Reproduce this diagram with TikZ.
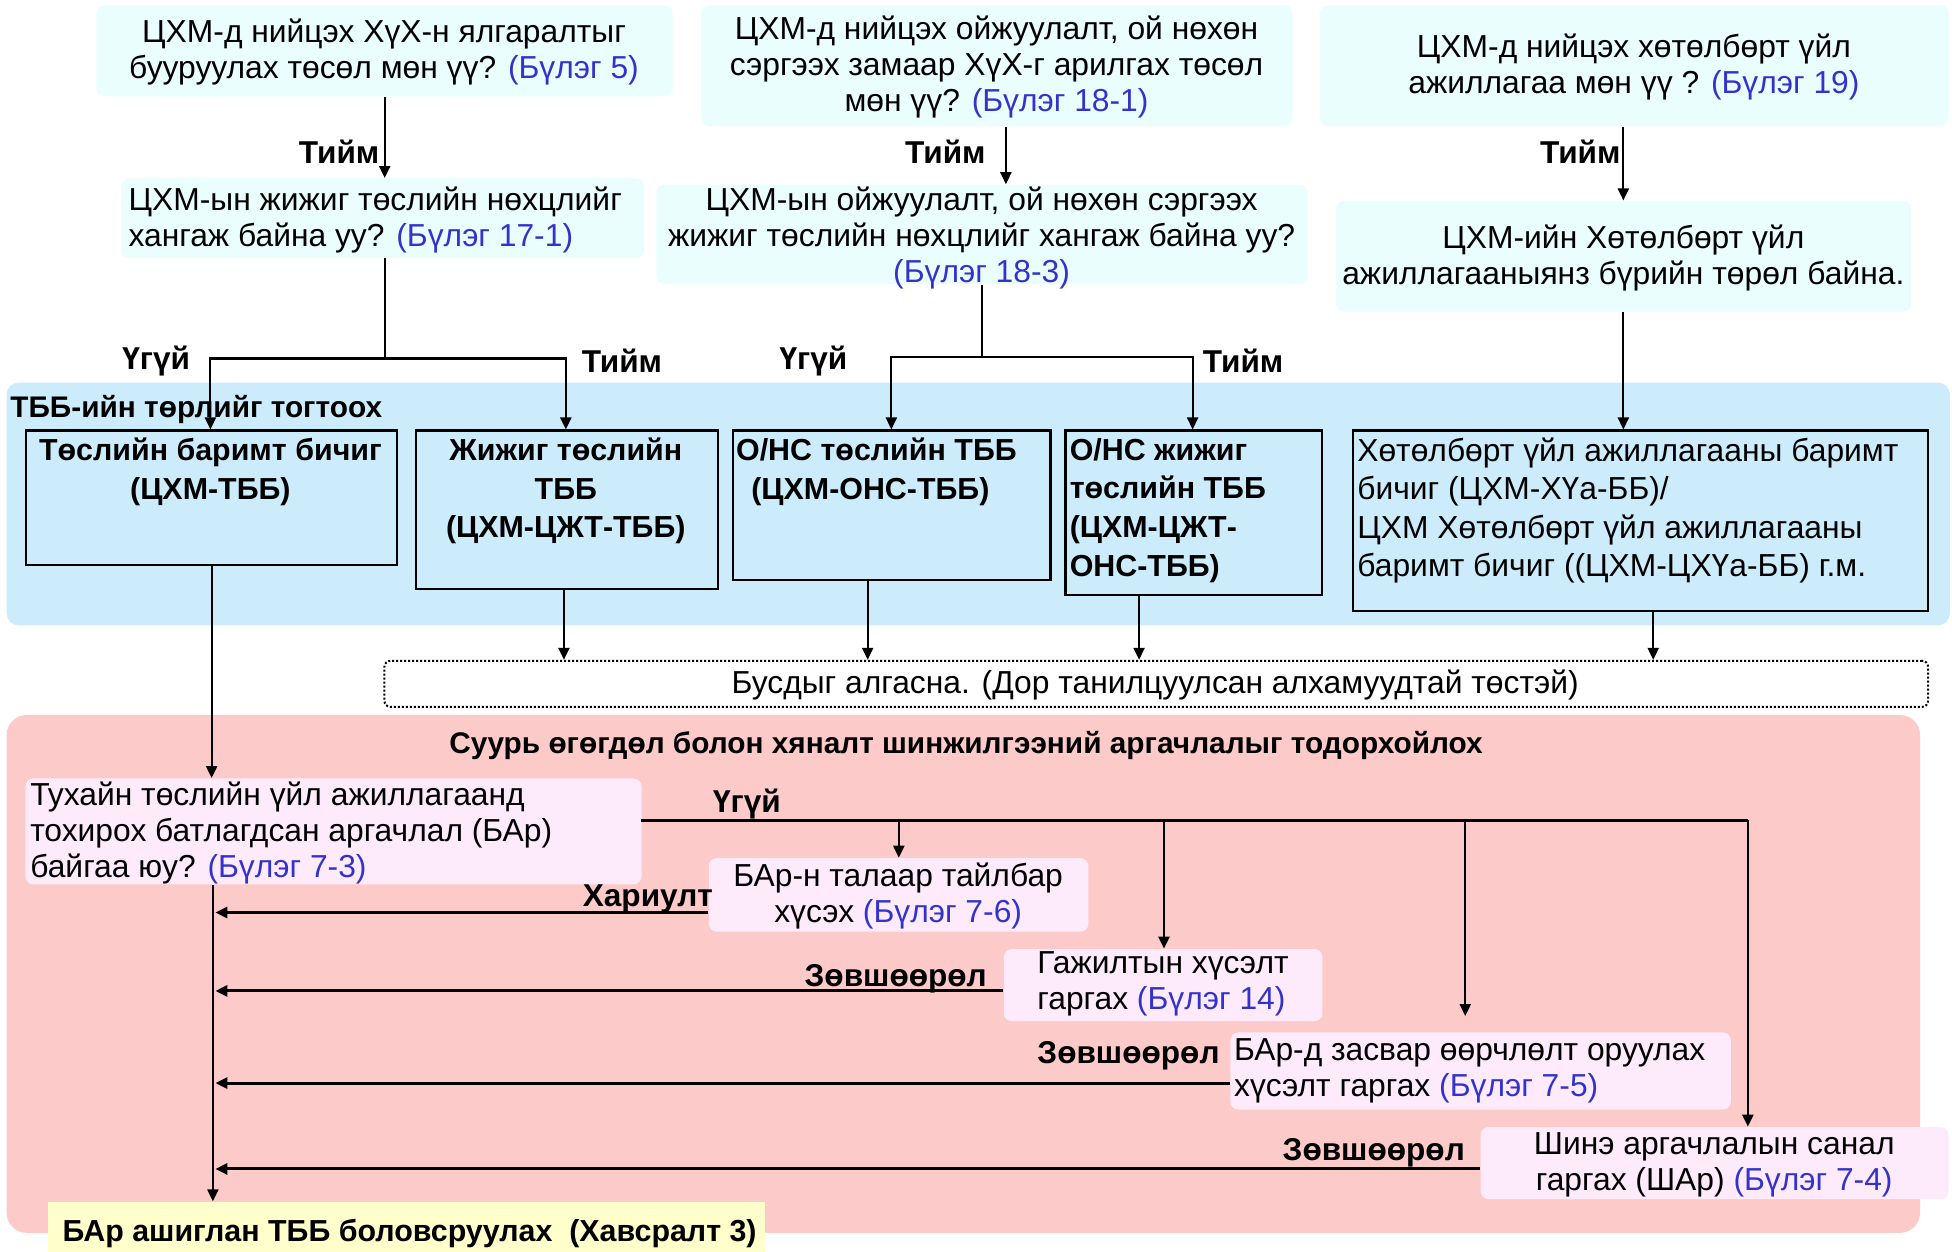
\documentclass[tikz,border=0pt]{standalone}
\usepackage{fontspec}
\setmainfont{Liberation Sans}
\usetikzlibrary{arrows.meta}
\definecolor{topc}{RGB}{234,254,254}
\definecolor{bluereg}{RGB}{204,236,252}
\definecolor{pinkreg}{RGB}{253,202,202}
\definecolor{pinkbox}{RGB}{253,235,252}
\definecolor{yelbox}{RGB}{255,255,204}
\definecolor{refblue}{RGB}{51,51,204}
\newcommand{\bl}[1]{\textcolor{refblue}{#1}}
\newcommand{\fs}{\fontsize{15.9}{18}\selectfont}
\newcommand{\fsk}{\fontsize{15.9}{19.3}\selectfont}
\newcommand{\fsb}{\fontsize{15.2}{19.3}\selectfont}
\newcommand{\fst}{\fontsize{14.9}{18}\selectfont}
\newcommand{\fsl}{\fontsize{15.8}{18}\selectfont}
\newcommand{\bx}[6]{\node[#6, anchor=north west, inner sep=0pt, minimum width={(#4-#2)*0.6225pt}, minimum height={(#5-#3)*0.6225pt}] (#1) at (#2,#3) {};}
\tikzset{
  topbox/.style={fill=topc, rounded corners=4pt},
  docbox/.style={fill=bluereg, draw=black, line width=1.1pt},
  pbox/.style={fill=pinkbox, rounded corners=4pt},
  txt/.style={inner sep=0pt, font=\fs, align=center},
  ltxt/.style={inner sep=0pt, font=\fs, align=left},
  btxt/.style={inner sep=0pt, font=\fsb\bfseries, align=center},
  lbtxt/.style={inner sep=0pt, font=\fsb\bfseries, align=left},
  lab/.style={inner sep=0pt, font=\fsl\bfseries},
  ttl/.style={inner sep=0pt, font=\fst\bfseries},
  conn/.style={line width=1.1pt},
  arr/.style={line width=1.1pt, -{Triangle[width=5.5pt,length=6pt]}},
  harr/.style={line width=1.5pt, -{Triangle[width=5.5pt,length=6pt]}},
}
\begin{document}
\begin{tikzpicture}[x=0.6225pt, y=-0.6225pt]
\useasboundingbox (0,0) rectangle (1568,1005);
% regions
\bx{breg}{5}{307}{1566}{502}{fill=bluereg, rounded corners=6pt}
\bx{preg}{5}{574}{1542}{990}{fill=pinkreg, rounded corners=10pt}
% top boxes
\bx{A}{77}{4}{540}{77}{topbox}
\bx{B}{563}{4}{1038}{101}{topbox}
\bx{C}{1060}{4}{1565}{101}{topbox}
\bx{D}{97}{143}{517}{207}{topbox}
\bx{E}{527}{148}{1050}{228}{topbox}
\bx{F}{1073}{161}{1535}{250}{topbox}
\node[txt] (At) at (308.5,42) {ЦХМ-д нийцэх ХүХ-н ялгаралтыг\\бууруулах төсөл мөн үү? \bl{(Бүлэг 5)}};
\node[txt] (Bt) at (800.5,54) {ЦХМ-д нийцэх ойжуулалт, ой нөхөн\\сэргээх замаар ХүХ-г арилгах төсөл\\мөн үү? \bl{(Бүлэг 18-1)}};
\node[txt] (Ct) at (1312.5,54) {ЦХМ-д нийцэх хөтөлбөрт үйл\\ажиллагаа мөн үү ? \bl{(Бүлэг 19)}};
\node[ltxt, anchor=west] (Dt) at (103,177) {ЦХМ-ын жижиг төслийн нөхцлийг\\хангаж байна уу? \bl{(Бүлэг 17-1)}};
\node[txt] (Et) at (788.5,191) {ЦХМ-ын ойжуулалт, ой нөхөн сэргээх\\жижиг төслийн нөхцлийг хангаж байна уу?\\\bl{(Бүлэг 18-3)}};
\node[txt] (Ft) at (1304,207.5) {ЦХМ-ийн Хөтөлбөрт үйл\\ажиллагааныянз бүрийн төрөл байна.};
% blue region content
\node[ttl, anchor=west] (bregt) at (8,329) {ТББ-ийн төрлийг тогтоох};
\bx{G}{20}{345}{318}{453}{docbox}
\bx{H}{333}{345}{576}{472}{docbox}
\bx{I}{588}{345}{843}{465}{docbox}
\bx{J}{855}{345}{1061}{477}{docbox}
\bx{K}{1086}{345}{1548}{490}{docbox}
\node[btxt] (Gt) at (169,379) {Төслийн баримт бичиг\\(ЦХМ-ТББ)};
\node[btxt] (Ht) at (454.5,394.5) {Жижиг төслийн\\ТББ\\(ЦХМ-ЦЖТ-ТББ)};
\node[lbtxt, anchor=west] (It) at (591,379) {О/НС төслийн ТББ\\\hspace*{0.5em}(ЦХМ-ОНС-ТББ)};
\node[lbtxt, anchor=west] (Jt) at (859,410) {О/НС жижиг\\төслийн ТББ\\(ЦХМ-ЦЖТ-\\ОНС-ТББ)};
\node[ltxt, anchor=west, font=\fsk] (Kt) at (1090,410) {Хөтөлбөрт үйл ажиллагааны баримт\\бичиг (ЦХМ-ХҮа-ББ)/\\ЦХМ Хөтөлбөрт үйл ажиллагааны\\баримт бичиг ((ЦХМ-ЦХҮа-ББ) г.м.};
% dotted box
\bx{L}{308}{530}{1548}{567}{draw=black, line width=1pt, dash pattern=on 1pt off 1pt, rounded corners=3pt}
\node[txt] (Lt) at (928,550) {Бусдыг алгасна. (Дор танилцуулсан алхамуудтай төстэй)};
% pink region content
\node[ttl] (pregt) at (776,599) {Суурь өгөгдөл болон хяналт шинжилгээний аргачлалыг тодорхойлох};
\bx{M}{20}{625}{515}{710}{pbox}
\bx{N}{569}{689}{874}{748}{pbox}
\bx{O}{806}{762}{1062}{820}{pbox}
\bx{P}{988}{829}{1390}{891}{pbox}
\bx{Q}{1189}{905}{1565}{963}{pbox}
\bx{R}{38}{965}{614}{1005}{fill=yelbox}
\node[ltxt, anchor=west] (Mt) at (24,669.5) {Тухайн төслийн үйл ажиллагаанд\\тохирох батлагдсан аргачлал (БАр)\\байгаа юу? \bl{(Бүлэг 7-3)}};
\node[txt] (Nt) at (721.5,719.5) {БАр-н талаар тайлбар\\хүсэх \bl{(Бүлэг 7-6)}};
\node[ltxt, anchor=west] (Ot) at (833,790.5) {Гажилтын хүсэлт\\гаргах \bl{(Бүлэг 14)}};
\node[ltxt, anchor=west] (Pt) at (991,860) {БАр-д засвар өөрчлөлт оруулах\\хүсэлт гаргах \bl{(Бүлэг 7-5)}};
\node[txt] (Qt) at (1377,936) {Шинэ аргачлалын санал\\гаргах (ШАр) \bl{(Бүлэг 7-4)}};
\node[inner sep=0pt, font=\fsb\bfseries, anchor=west] (Rt) at (50,991) {БАр ашиглан ТББ боловсруулах\ \ (Хавсралт 3)};
% coordinates
\coordinate (d1) at (309,288);
\coordinate (e1) at (789,287);
\coordinate (m1) at (1404,659);
% top connectors
\draw[arr] (309,0 |- A.south) -- (309,0 |- D.north);
\draw[arr] (808,0 |- B.south) -- (808,0 |- E.north);
\draw[arr] (1304,0 |- C.south) -- (1304,0 |- F.north);
\node[lab, anchor=east] (y1) at (305,122) {Тийм};
\node[lab, anchor=east] (y2) at (792,122) {Тийм};
\node[lab, anchor=east] (y3) at (1302,122) {Тийм};
% branches
\draw[conn] (309,0 |- D.south) -- (d1);
\draw[arr] (d1) -| (169,0 |- G.north);
\draw[arr] (d1) -| (454.5,0 |- H.north);
\draw[conn] (789,0 |- E.south) -- (e1);
\draw[arr] (e1) -| (716,0 |- I.north);
\draw[arr] (e1) -| (958,0 |- J.north);
\draw[arr] (1304,0 |- F.south) -- (1304,0 |- K.north);
\node[lab, anchor=east] (n1) at (153,290) {Үгүй};
\node[lab, anchor=west] (y4) at (467,290) {Тийм};
\node[lab, anchor=east] (n2) at (681,290) {Үгүй};
\node[lab, anchor=west] (y5) at (966,290) {Тийм};
% to dotted box
\draw[arr] (453,0 |- H.south) -- (453,0 |- L.north);
\draw[arr] (697,0 |- I.south) -- (697,0 |- L.north);
\draw[arr] (915,0 |- J.south) -- (915,0 |- L.north);
\draw[arr] (1328,0 |- K.south) -- (1328,0 |- L.north);
% main vertical
\draw[arr] (170,0 |- G.south) -- (170,0 |- M.north);
\draw[arr] (171,0 |- M.south) -- (171,0 |- R.north);
% no-branch
\draw[harr, -] (515,659) -- (m1);
\draw[arr] (722,659) -- (722,0 |- N.north);
\draw[arr] (935,659) -- (935,0 |- O.north);
\draw[arr, shorten >=8pt] (1177,659) -- (1177,0 |- P.north);
\draw[arr] (m1) -- (1404,0 |- Q.north);
\node[lab] (n3) at (600,646) {Үгүй};
% returns
\draw[harr] (N.west |- 0,733) -- (173,733);
\draw[harr] (O.west |- 0,796) -- (173,796);
\draw[harr] (P.west |- 0,870) -- (173,870);
\draw[harr] (Q.west |- 0,939) -- (173,939);
\node[lab, anchor=east] (l1) at (573,722) {Хариулт};
\node[lab, anchor=east] (l2) at (793,786) {Зөвшөөрөл};
\node[lab, anchor=east] (l3) at (980,848) {Зөвшөөрөл};
\node[lab, anchor=east] (l4) at (1177,926) {Зөвшөөрөл};
\end{tikzpicture}
\end{document}
